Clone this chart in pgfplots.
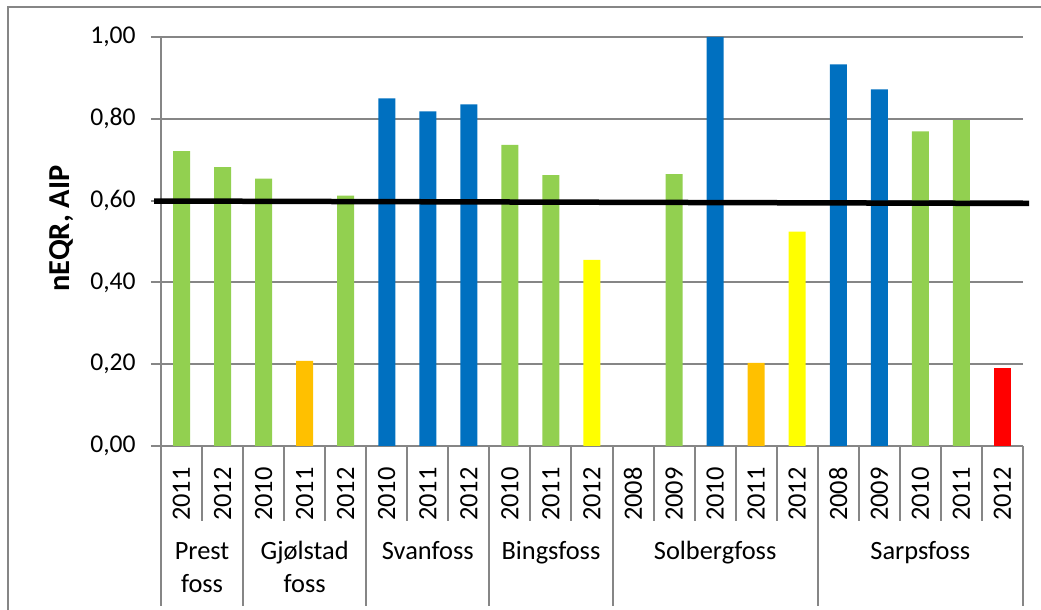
\documentclass[border=0pt]{standalone}
\usepackage{fontspec}
\setmainfont{Carlito}
\usepackage{pgfplots}
\pgfplotsset{compat=1.18}
\definecolor{cgreen}{HTML}{92D050}
\definecolor{corange}{HTML}{FFC000}
\definecolor{cblue}{HTML}{0070C0}
\definecolor{cyellow}{HTML}{FFFF00}
\definecolor{cred}{HTML}{FF0000}
\definecolor{gridgray}{HTML}{868686}
\begin{document}
\begin{tikzpicture}
\useasboundingbox (0pt,0pt) rectangle (520.5pt,305pt);
\draw[gridgray, line width=1pt] (4pt,-20pt) -- (4pt,301.5pt) -- (540pt,301.5pt);
\begin{axis}[
  at={(80.5pt,82pt)}, anchor=south west,
  scale only axis, width=431pt, height=204.5pt,
  xmin=-0.5, xmax=20.5, ymin=0, ymax=1,
  axis x line*=bottom, axis y line*=left,
  axis line style={gridgray, line width=1pt},
  ytick={0,0.2,0.4,0.6,0.8,1},
  yticklabel style={/pgf/number format/fixed, /pgf/number format/fixed zerofill, /pgf/number format/precision=2, /pgf/number format/use comma, inner sep=0pt, xshift=-7.5pt, font=\fontsize{12.8}{15}\selectfont},
  /pgf/number format/assume math mode=true,
  ymajorgrids, major grid style={gridgray, line width=1pt},
  tick align=outside, major tick length=5pt,
  ytick style={gridgray, line width=1pt},
  xtick={0,...,20},
  xticklabels={2011,2012,2010,2011,2012,2010,2011,2012,2010,2011,2012,2008,2009,2010,2011,2012,2008,2009,2010,2011,2012},
  xtick style={draw=none},
  xticklabel style={yshift=-5.5pt, rotate=90, anchor=east, inner sep=0pt, font=\fontsize{13.2}{16}\selectfont},
  ylabel={\fontsize{15.2}{18}\selectfont\bfseries nEQR, AIP},
  every axis y label/.style={at={(axis description cs:0,0.5)}, xshift=-49.5pt, yshift=6.5pt, rotate=90, anchor=center},
  font=\fontsize{13.2}{16}\selectfont,
  clip=false,
]
\addplot[ybar, bar width=8.5pt, bar shift=0pt, fill=cgreen, draw=none] coordinates {
 (0,0.721) (1,0.682) (2,0.654) (4,0.612) (8,0.736) (9,0.662) (12,0.665) (18,0.769) (19,0.797)};
\addplot[ybar, bar width=8.5pt, bar shift=0pt, fill=corange, draw=none] coordinates {
 (3,0.208) (14,0.203)};
\addplot[ybar, bar width=8.5pt, bar shift=0pt, fill=cblue, draw=none] coordinates {
 (5,0.850) (6,0.818) (7,0.835) (13,1.000) (16,0.933) (17,0.872)};
\addplot[ybar, bar width=8.5pt, bar shift=0pt, fill=cyellow, draw=none] coordinates {
 (10,0.455) (15,0.524)};
\addplot[ybar, bar width=8.5pt, bar shift=0pt, fill=cred, draw=none] coordinates {
 (20,0.191)};
\addplot[black, line width=2.75pt, no marks] coordinates {(-0.67,0.599) (20.65,0.593)};
\pgfplotsinvokeforeach{0.5,2.5,3.5,5.5,6.5,8.5,9.5,11.5,12.5,13.5,14.5,16.5,17.5,18.5,19.5}{
  \draw[gridgray, line width=1pt] (axis cs:#1,0) -- ++(0pt,-37.5pt);
}
\pgfplotsinvokeforeach{-0.5,1.5,4.5,7.5,10.5,15.5,20.5}{
  \draw[gridgray, line width=1pt] (axis cs:#1,0) -- ++(0pt,-80pt);
}
\node[anchor=base, yshift=-57pt] at (axis cs:0.5,0) {Prest};
\node[anchor=base, yshift=-73.5pt] at (axis cs:0.5,0) {foss};
\node[anchor=base, yshift=-57pt] at (axis cs:3,0) {Gjølstad};
\node[anchor=base, yshift=-73.5pt] at (axis cs:3,0) {foss};
\node[anchor=base, yshift=-57pt] at (axis cs:6,0) {Svanfoss};
\node[anchor=base, yshift=-57pt] at (axis cs:9,0) {Bingsfoss};
\node[anchor=base, yshift=-57pt] at (axis cs:13,0) {Solbergfoss};
\node[anchor=base, yshift=-57pt] at (axis cs:18,0) {Sarpsfoss};
\end{axis}
\end{tikzpicture}
\end{document}
